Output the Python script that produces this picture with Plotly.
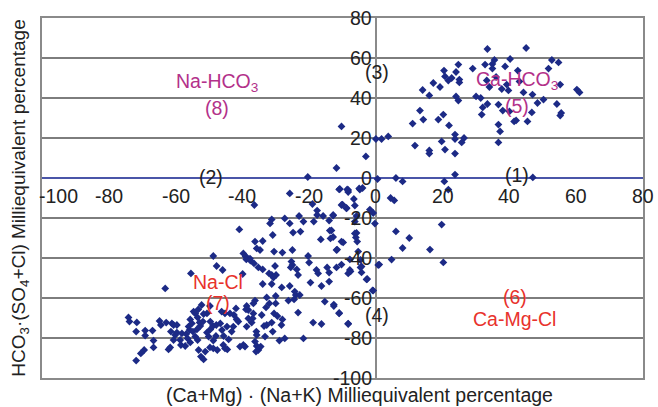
import plotly.graph_objects as go

# Data: x = (Ca+Mg)-(Na+K) %, y = HCO3-(SO4+Cl) %
pts_upper = [
    (33.4,64.5),(45,65),(35.5,59),(40.2,59.5),(52.7,59),(54.7,57.8),(24.7,56.7),(32.7,56.7),
    (34.9,57),(34.9,54.7),(38.7,55.8),(29,54.7),(20.4,53.7),(24,53),(42.5,53.7),(51.7,54.7),
    (20.7,50.8),(22.7,50),(21.7,48.7),(25,49.2),(25,47.8),(33.2,48.8),(36,50.5),(39.2,46.7),
    (43,48.3),(17.2,47.5),(19.2,45.5),(14,44),(16,41.3),(34,45.5),(37.7,44.5),(39.7,43.8),
    (44.2,42.8),(46.9,41.7),(55.2,46.7),(60.2,44.2),(61,42.8),(24,40.8),(24.7,38.7),(30,40.8),
    (31.4,40),(32,35.3),(31.7,31.7),(33.4,37),(36.7,36.7),(38,33.7),(40,33.3),(41.4,28.3),
    (42,28.8),(45.4,28.3),(46.7,32.8),(48.4,37.5),(50.2,39.2),(54.2,37),(55.5,32.5),(55.2,31.2),
    (13.2,33.7),(14.2,29.2),(11,27.2),(18.7,29.2),(20.2,31.7),(21.9,26.3),(36.7,26.7),(37.2,23.3),
    (36.7,17.8),(11.7,16.2),(16,13.8),(16,12.2),(19.7,18.3),(20.7,14.2),(23.7,21.7),(23.7,19.5),
    (26.4,20),(25.7,17.8),(23.7,12.2),(23.7,1.7),(3.7,20.8),(1.7,19.5),(0,19.5),(-3,10.8),
    (-10.3,25.8),(-11.8,5),(0.5,-0.5),(6,0),(8,-1.7),(20.5,-1.7),(47,0.3),(-10.8,-5.5),
    (-8.3,-6),(-8.3,-7),(-4.8,-5.8),(-4,-5),(-6.6,-10.5),(21.7,-5.8),(4.4,-10),(-20.4,0.5),
]
pts_right = [
    (5.5,-11.2),(19.7,-23.3),(6,-26.7),(10,-30),(8,-35),(16.2,-35.8),(4.7,-40.8),(20.2,-42.2),
    (1,-43.3),(-0.8,-17.5),(-1.8,-15.8),(-0.3,-22.8),(-1,-56.2),(-2.6,-50.5),(-4.3,-44.2),
    (-4.3,-47.2),(-7.6,-46.7),(-10.3,-43.3),(-5.8,-27.5),(-12.6,-63.3),(-11,-67.5),(-8.3,-72.8),
    (-10,-13.3),(-8.8,-15),(-6.3,-13.8),(-12.8,-18.8),(-13.3,-26.2),(-12.8,-29.5),(-9.8,-32.2),
    (-11.6,-35.8),
]
pts_middle = [
    (-25.8,-7.7),(-36.4,-13.5),(-19,-13),(-11,-5.7),(-8.6,-5.7),(-5,-5.2),(-10.3,-13.5),
    (-8.8,-15.2),(-17.6,-16.3),(-17.6,-18.5),(-15.8,-19),(-12.8,-18.5),(-23,-19),(-27.3,-20.2),
    (-31.2,-20.7),(-31.7,-22.7),(-21.7,-21.8),(-18.6,-21.8),(-14,-21.3),(-25.8,-22.7),(-5.8,-19),
    (-6.3,-21.8),(-24.8,-27.3),(-22.6,-26.8),(-30.9,-28.5),(-13.8,-26.3),(-6.3,-27.7),(-6,-29.7),
    (-5.6,-31.8),(-13.6,-30.2),(-16.5,-30.7),(-10.3,-31.8),(-36.2,-31.8),(-33.9,-31.5),
    (-35.7,-35.2),(-34.7,-36),(-30.5,-36.8),(-28,-37.3),(-25,-36),(-11.8,-36),(-5.3,-36.8),
    (-39.7,-37.7),(-38.7,-39.7),(-37.7,-40.3),(-20.3,-39),(-7.8,-40.7),(-4.6,-41),(0.7,-43.5),
    (-36.5,-42.7),(-35.2,-44.7),(-33.9,-45.7),(-25.3,-41.8),(-25,-43.5),(-20,-42.3),(-30.2,-44),
    (-29.9,-48.5),(-31.2,-48.5),(-30.7,-49.8),(-32,-47.7),(-25.5,-44.7),(-23.7,-45.7),
    (-23.3,-48.5),(-17.8,-46),(-17.3,-47.7),(-14.6,-44.7),(-14,-47.3),(-11.8,-44.7),
    (-7.8,-46),(-8.3,-47.7),(-4.6,-44.7),(-2.8,-50.7),(-40.9,-25.7),(-48.7,-39),(-39,-39.3),
    (-38.8,-40.7),(-37.6,-41.3),
]
pts_lower_mid = [
    (-33.9,-53),(-31.2,-53),(-28.2,-54.7),(-25.8,-54),(-19.6,-52.3),(-16.3,-54),(-14,-51.8),
    (-0.8,-56.3),(-30,-59),(-32.7,-59.7),(-31.9,-62.7),(-32.9,-64.7),(-36.2,-61.3),(-36.7,-62.7),
    (-38.7,-64),(-38.2,-66),(-26.2,-61.3),(-24.3,-56.8),(-24,-58.5),(-22.8,-58.5),(-24.5,-60.7),
    (-30,-62.7),(-30.5,-67.7),(-29.5,-69),(-34.2,-68.5),(-32.7,-73.5),(-33.5,-74),(-31.2,-72.3),
    (-28,-70.7),(-28.3,-73.5),(-23.3,-67.3),(-30.9,-76.8),(-35.8,-76.8),(-35.7,-78.5),
    (-36.7,-67.7),(-36.9,-70.2),(-37.2,-72.3),(-38.7,-74.3),(-33.2,-79.3),(-28.9,-81.3),
    (-27.3,-80.2),(-21.7,-80.2),(-36.2,-81.8),(-35.7,-84),(-35.2,-86),(-35.9,-86.8),
    (-34.5,-84.3),(-39.2,-84.3),(-18.8,-72.3),(-16.3,-73),(-15.3,-61.8),(-12.6,-64),
    (-11,-67.7),(-8.3,-73),
]
pts_lower_left = [
    (-74.1,-69.7),(-73.8,-71.8),(-71.6,-72.2),(-71.8,-76.8),(-69.1,-76.3),(-69.1,-78.8),
    (-66.9,-76.3),(-66.6,-81.3),(-66.6,-84.7),(-69.4,-86),(-70.4,-87.7),(-71.8,-91.3),
    (-64.8,-71.5),(-64.4,-73.5),(-62.8,-72.3),(-61.1,-72.7),(-60.6,-73.5),(-61.4,-76.8),
    (-59.6,-77.3),(-58.1,-77.7),(-56.8,-78),(-55.6,-70.7),(-55.1,-72.7),(-55.8,-76),
    (-54.8,-76.8),(-56.4,-80.2),(-54.1,-79.3),(-53.4,-81),(-55.6,-82.2),(-58.6,-81),
    (-58.4,-83.5),(-57.1,-84),(-61.6,-84.7),(-62.1,-85.7),(-53.1,-86),(-52.4,-89.3),
    (-51.6,-90.7),(-51.1,-86.8),(-53.6,-75.7),(-52.6,-74),(-52.8,-72.3),(-50.6,-77.3),
    (-50.1,-79.3),(-49.6,-75.7),(-48.8,-74),(-49.6,-71.8),(-51.8,-71.8),(-50.6,-67.7),
    (-51.6,-68),(-53.4,-69.7),(-54.1,-67.7),(-47.8,-73.5),(-46.6,-72.7),(-46.1,-76),
    (-44.6,-74.3),(-45.6,-79),(-44.1,-80.7),(-43.2,-76.8),(-42.7,-74.3),(-41.7,-70.7),
    (-41.2,-71.8),(-42.5,-68.5),(-43.7,-67.7),(-45.2,-67.7),(-46.2,-66.8),(-41.9,-65.2),
    (-45.7,-83.5),(-44.5,-85.7),(-45.2,-85.2),(-48.7,-81.3),(-47.9,-79),(-48.7,-85.2),
    (-49.7,-84.7),(-47.5,-86),(-40.7,-84.3),(-39.7,-83.5),(-38.9,-65.7),(-38.2,-70.2),
    (-52.2,-63.5),(-53.2,-65.7),(-54.6,-66.8),(-49.7,-64),(-47.7,-44),(-45.9,-46),
    (-55.4,-47.7),(-63.1,-55.2),(-39.9,-48),(-56.1,-74.3),(-59.6,-73.5),(-60.6,-81),
    (-60.1,-78.5),
]

x_vals = [p[0] for p in pts_upper + pts_right + pts_middle + pts_lower_mid + pts_lower_left]
y_vals = [p[1] for p in pts_upper + pts_right + pts_middle + pts_lower_mid + pts_lower_left]

x_ticks = [-100, -80, -60, -40, -20, 0, 20, 40, 60, 80]
y_ticks = [-100, -80, -60, -40, -20, 0, 20, 40, 60, 80]

# Zone labels
zone_text = ["Na-HCO<sub>3</sub>", "(8)", "(2)", "(3)", "Ca-HCO<sub>3</sub>", "(5)", "(1)",
             "Na-Cl", "(7)", "(4)", "(6)", "Ca-Mg-Cl"]
zone_x = [-47.6, -47.6, -49.4, 0.3, 42.2, 42.2, 42.2, -47.3, -47.3, 0.3, 41.6, 41.6]
zone_y = [48, 35, 0.3, 53, 49, 36, 1.5, -52, -62.5, -68.5, -59.5, -70.5]
zone_color = ["#b3318a", "#b3318a", "#222222", "#222222", "#b3318a", "#b3318a", "#222222",
              "#e8322c", "#e8322c", "#222222", "#e8322c", "#e8322c"]

FONT = "Liberation Sans, Arial, sans-serif"
FS = 19.5

fig = go.Figure()
fig.add_trace(go.Scatter(
    x=x_vals, y=y_vals, mode="markers",
    marker=dict(symbol="diamond", size=6, color="#1c2a86"),
    showlegend=False, hoverinfo="skip",
))

annotations = []
for t in x_ticks:
    annotations.append(dict(
        x=t, y=0, xref="x", yref="y", text=str(t), showarrow=False,
        xanchor="left" if t == -100 else "center", xshift=-5 if t == -100 else 0,
        yanchor="top", yshift=-5, font=dict(size=FS, color="#222222", family=FONT),
    ))
for t in y_ticks:
    annotations.append(dict(
        x=0, y=t, xref="x", yref="y", text=str(t), showarrow=False,
        xanchor="right", xshift=-2, yanchor="middle",
        font=dict(size=FS, color="#222222", family=FONT),
    ))
for txt, zx, zy, c in zip(zone_text, zone_x, zone_y, zone_color):
    annotations.append(dict(
        x=zx, y=zy, xref="x", yref="y", text=txt, showarrow=False,
        xanchor="center", yanchor="middle", font=dict(size=FS, color=c, family=FONT),
    ))
annotations.append(dict(
    x=0.529, y=-0.047, xref="paper", yref="paper", showarrow=False,
    text="(Ca+Mg) · (Na+K) Milliequivalent percentage",
    xanchor="center", yanchor="middle", font=dict(size=FS, color="#222222", family=FONT),
))
annotations.append(dict(
    x=-0.037, y=0.5, xref="paper", yref="paper", showarrow=False, textangle=-90,
    text="HCO<sub>3</sub>·(SO<sub>4</sub>+Cl) Milliequivalent percentage",
    xanchor="center", yanchor="middle", font=dict(size=19, color="#222222", family=FONT),
))

fig.update_layout(
    width=658, height=407,
    margin=dict(l=42, r=15, t=18, b=29),
    paper_bgcolor="white", plot_bgcolor="white",
    font=dict(family=FONT, size=FS, color="#222222"),
    annotations=annotations,
    xaxis=dict(range=[-100, 80], showgrid=False, showticklabels=False, ticks="",
               showline=True, mirror=True, linecolor="#8a8a8a", linewidth=1.5,
               zeroline=True, zerolinecolor="#8a8a8a", zerolinewidth=1.5, fixedrange=True),
    yaxis=dict(range=[-100, 80], showgrid=True, gridcolor="#7d7d7d", gridwidth=1.5,
               tickvals=y_ticks, showticklabels=False, ticks="",
               showline=True, mirror=True, linecolor="#8a8a8a", linewidth=1.5,
               zeroline=True, zerolinecolor="#4a55a8", zerolinewidth=1.5, fixedrange=True),
)

fig.write_html("out.html", config={"displayModeBar": False},
               post_script="document.body.style.margin='0px';")
